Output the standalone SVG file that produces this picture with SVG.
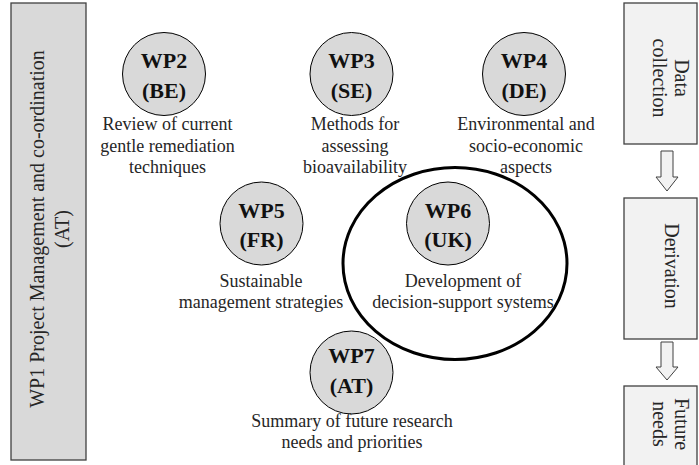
<svg xmlns="http://www.w3.org/2000/svg" width="699" height="465" viewBox="0 0 699 465">
<style>
.bg{fill:#ffffff}
.wpc{fill:#d9d9d9;stroke:#000;stroke-width:1}
.lab{font-family:"Liberation Serif","Times New Roman","DejaVu Serif",serif;font-weight:bold;font-size:22px;fill:#111;text-anchor:middle}
.desc{font-family:"Liberation Serif","Times New Roman","DejaVu Serif",serif;font-size:18px;fill:#262626;text-anchor:middle}
.side{font-family:"Liberation Serif","Times New Roman","DejaVu Serif",serif;font-size:20px;fill:#262626;text-anchor:middle}
.box1{fill:#d9d9d9;stroke:#404040;stroke-width:1.3}
.box2{fill:#f2f2f2;stroke:#404040;stroke-width:1.3}
.arr{fill:#f2f2f2;stroke:#404040;stroke-width:1}
</style>
<rect class="bg" x="0" y="0" width="699" height="465"/>
<g id="wp1">
<rect class="box1" x="11" y="3" width="75" height="457"/>
<g transform="translate(0,229) rotate(-90)">
<text class="side" x="0" y="44" font-size="20.5">WP1 Project Management and co-ordination</text>
<text class="side" x="0" y="69" font-size="20.5">(AT)</text>
</g>
</g>
<g id="wp2">
<circle class="wpc" cx="164" cy="74" r="41.5"/>
<text class="lab" x="164" y="68">WP2</text>
<text class="lab" x="164" y="98">(BE)</text>
<text class="desc" x="167.5" y="130">Review of current</text>
<text class="desc" x="167.5" y="152">gentle remediation</text>
<text class="desc" x="167.5" y="173">techniques</text>
</g>
<g id="wp3">
<circle class="wpc" cx="351.5" cy="74" r="41.5"/>
<text class="lab" x="351.5" y="68">WP3</text>
<text class="lab" x="351.5" y="98">(SE)</text>
<text class="desc" x="355" y="130">Methods for</text>
<text class="desc" x="355" y="152">assessing</text>
<text class="desc" x="355" y="173">bioavailability</text>
</g>
<g id="wp4">
<circle class="wpc" cx="524" cy="74" r="41.5"/>
<text class="lab" x="524" y="68">WP4</text>
<text class="lab" x="524" y="98">(DE)</text>
<text class="desc" x="526" y="130">Environmental and</text>
<text class="desc" x="526" y="152">socio-economic</text>
<text class="desc" x="526" y="173">aspects</text>
</g>
<g id="wp5">
<circle class="wpc" cx="261.5" cy="223.5" r="41.5"/>
<text class="lab" x="261.5" y="218">WP5</text>
<text class="lab" x="261.5" y="247">(FR)</text>
<text class="desc" x="261" y="287">Sustainable</text>
<text class="desc" x="261" y="308">management strategies</text>
</g>
<g id="wp6">
<ellipse cx="455" cy="263.5" rx="112" ry="96" fill="none" stroke="#000" stroke-width="3"/>
<circle class="wpc" cx="448" cy="223.5" r="41.5"/>
<text class="lab" x="448" y="218">WP6</text>
<text class="lab" x="448" y="247">(UK)</text>
<text class="desc" x="463" y="287">Development of</text>
<text class="desc" x="463" y="308">decision-support systems</text>
</g>
<g id="wp7">
<circle class="wpc" cx="351.5" cy="372.5" r="41.5"/>
<text class="lab" x="351.5" y="363">WP7</text>
<text class="lab" x="351.5" y="393">(AT)</text>
<text class="desc" x="352" y="427">Summary of future research</text>
<text class="desc" x="352" y="448">needs and priorities</text>
</g>
<g id="data">
<rect class="box2" x="624" y="3" width="73" height="141"/>
<g transform="translate(0,78) rotate(90)">
<text class="side" x="0" y="-675">Data</text>
<text class="side" x="0" y="-653">collection</text>
</g>
</g>
<g id="derivation">
<rect class="box2" x="624" y="198" width="73" height="141"/>
<g transform="translate(0,266) rotate(90)">
<text class="side" x="0" y="-665">Derivation</text>
</g>
</g>
<g id="future">
<rect class="box2" x="624" y="386" width="73" height="85"/>
<g transform="translate(0,424) rotate(90)">
<text class="side" x="0" y="-675">Future</text>
<text class="side" x="0" y="-653">needs</text>
</g>
</g>
<g id="connectors">
<polygon class="arr" points="661,151 673,151 673,177 678,177 667,191 656,177 661,177"/>
<polygon class="arr" points="661,342 673,342 673,367 678,367 667,380 656,367 661,367"/>
</g>
</svg>
